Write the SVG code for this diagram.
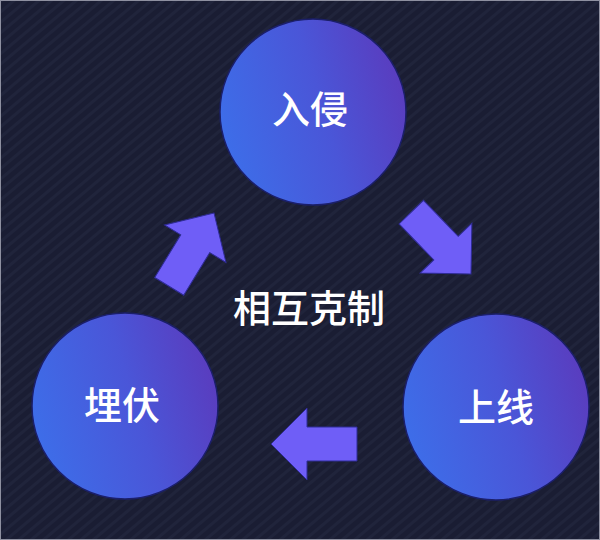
<svg xmlns="http://www.w3.org/2000/svg" width="600" height="540" viewBox="0 0 600 540">
  <defs>
    <pattern id="stripes" width="8" height="8" patternUnits="userSpaceOnUse" patternTransform="rotate(-40)">
      <rect width="8" height="8" fill="#1a1d33"/>
      <rect width="8" height="3" fill="#20243b"/>
    </pattern>
    <linearGradient id="ball" x1="0" y1="0.65" x2="1" y2="0.35">
      <stop offset="0" stop-color="#3d6ee9"/>
      <stop offset="0.55" stop-color="#4a56d8"/>
      <stop offset="1" stop-color="#5a3cbe"/>
    </linearGradient>
    <polygon id="arrow" points="0,0 -36,-36 -36,-17 -86,-17 -86,17 -36,17 -36,36"/>
  </defs>
  <style>
    .node circle { fill: url(#ball); stroke: #1b1f6a; stroke-width: 1.5; }
    .label { fill: #ffffff; font-family: "Noto Sans CJK SC", "Noto Sans", sans-serif; font-size: 38px; font-weight: 500; text-anchor: middle; }
    .conn use { fill: #6f5ef7; stroke: #2f2c96; stroke-width: 1; }
  </style>
  <rect width="600" height="540" fill="url(#stripes)"/>
  <rect x="0.5" y="0.5" width="599" height="539" fill="none" stroke="#8e90a0" stroke-width="1"/>

  <g id="node-qinru" class="node">
    <circle cx="313" cy="112" r="93"/>
    <text class="label" x="310" y="123">入侵</text>
  </g>
  <g id="node-shangxian" class="node">
    <circle cx="496" cy="407" r="93"/>
    <text class="label" x="496" y="421">上线</text>
  </g>
  <g id="node-maifu" class="node">
    <circle cx="125" cy="406" r="93"/>
    <text class="label" x="122" y="419">埋伏</text>
  </g>

  <g id="connectors" class="conn">
    <use href="#arrow" transform="translate(471 274) rotate(46)"/>
    <use href="#arrow" transform="translate(271 444) rotate(180)"/>
    <use href="#arrow" transform="translate(214 213) rotate(-58.6)"/>
  </g>

  <g id="center-label">
    <text class="label" x="309" y="322">相互克制</text>
  </g>
</svg>
